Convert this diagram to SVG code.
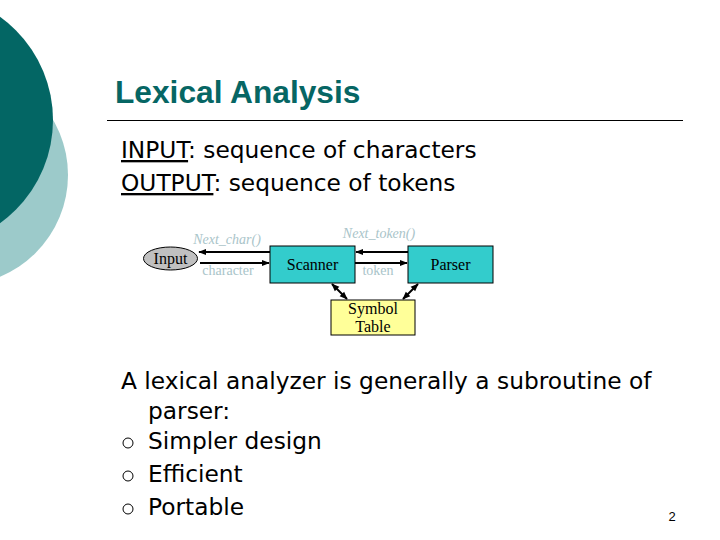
<svg xmlns="http://www.w3.org/2000/svg" width="720" height="540" viewBox="0 0 720 540">
<style>
.body{font-family:"DejaVu Sans",Verdana,sans-serif;font-size:23.3px;fill:#000}
.node{font-family:"Liberation Serif","Times New Roman",serif;font-size:16px;fill:#000;text-anchor:middle}
.lbl{font-family:"Liberation Serif","Times New Roman",serif;font-size:14px;fill:#a9c4c9;text-anchor:middle}
.ln{stroke:#000;stroke-width:2;fill:none}
.box{stroke:#000;stroke-width:1}
</style>
<defs>
<marker id="ah" viewBox="0 0 10 10" refX="9" refY="5" markerWidth="4" markerHeight="4" orient="auto-start-reverse">
<path d="M0,1 L10,5 L0,9 z" fill="#000"/>
</marker>
</defs>
<rect width="720" height="540" fill="#fff"/>
<g id="decor">
<circle cx="-42" cy="175" r="110" fill="#9ccaca"/>
<circle cx="-74" cy="120" r="127" fill="#036664"/>
</g>
<g id="title">
<text x="115" y="103" font-family="'Liberation Sans',Arial,sans-serif" font-weight="bold" font-size="31.7" fill="#066664">Lexical Analysis</text>
<line x1="107" y1="120.5" x2="683" y2="120.5" stroke="#000" stroke-width="1"/>
</g>
<g id="io-text">
<text class="body" x="121" y="158"><tspan text-decoration="underline">INPUT</tspan>: sequence of characters</text>
<text class="body" x="121" y="191"><tspan text-decoration="underline">OUTPUT</tspan>: sequence of tokens</text>
</g>
<g id="connectors">
<line class="ln" x1="270" y1="252" x2="199" y2="252" marker-end="url(#ah)"/>
<line class="ln" x1="200" y1="263" x2="269" y2="263" marker-end="url(#ah)"/>
<line class="ln" x1="408" y1="252" x2="356" y2="252" marker-end="url(#ah)"/>
<line class="ln" x1="355" y1="263" x2="407" y2="263" marker-end="url(#ah)"/>
<line class="ln" x1="332" y1="284" x2="347" y2="299" marker-start="url(#ah)" marker-end="url(#ah)"/>
<line class="ln" x1="418" y1="284" x2="403" y2="299" marker-start="url(#ah)" marker-end="url(#ah)"/>
<text class="lbl" x="227" y="244" font-style="italic">Next_char()</text>
<text class="lbl" x="228" y="275">character</text>
<text class="lbl" x="379" y="238" font-style="italic">Next_token()</text>
<text class="lbl" x="378" y="275">token</text>
</g>
<g id="input">
<ellipse class="box" cx="170.5" cy="258.5" rx="27" ry="11.5" fill="#c0c0c0"/>
<text class="node" x="170.5" y="264">Input</text>
</g>
<g id="scanner">
<rect class="box" x="270" y="246" width="85" height="37" fill="#33cccc"/>
<text class="node" x="312.5" y="270">Scanner</text>
</g>
<g id="parser">
<rect class="box" x="408" y="246" width="85" height="37" fill="#33cccc"/>
<text class="node" x="450.5" y="270">Parser</text>
</g>
<g id="symtab">
<rect class="box" x="331" y="300" width="84" height="35" fill="#ffff99"/>
<text class="node" x="373" y="314" font-size="15">Symbol</text>
<text class="node" x="373" y="332" font-size="15">Table</text>
</g>
<g id="bullets">
<text class="body" x="121" y="389">A lexical analyzer is generally a subroutine of</text>
<text class="body" x="148" y="419">parser:</text>
<circle cx="128" cy="443" r="5" fill="none" stroke="#000" stroke-width="1"/>
<text class="body" x="148" y="449">Simpler design</text>
<circle cx="128" cy="476" r="5" fill="none" stroke="#000" stroke-width="1"/>
<text class="body" x="148" y="482">Efficient</text>
<circle cx="128" cy="509" r="5" fill="none" stroke="#000" stroke-width="1"/>
<text class="body" x="148" y="515">Portable</text>
</g>
<text x="672" y="521" font-family="'Liberation Sans',Arial,sans-serif" font-size="13" fill="#000" text-anchor="middle">2</text>
</svg>
